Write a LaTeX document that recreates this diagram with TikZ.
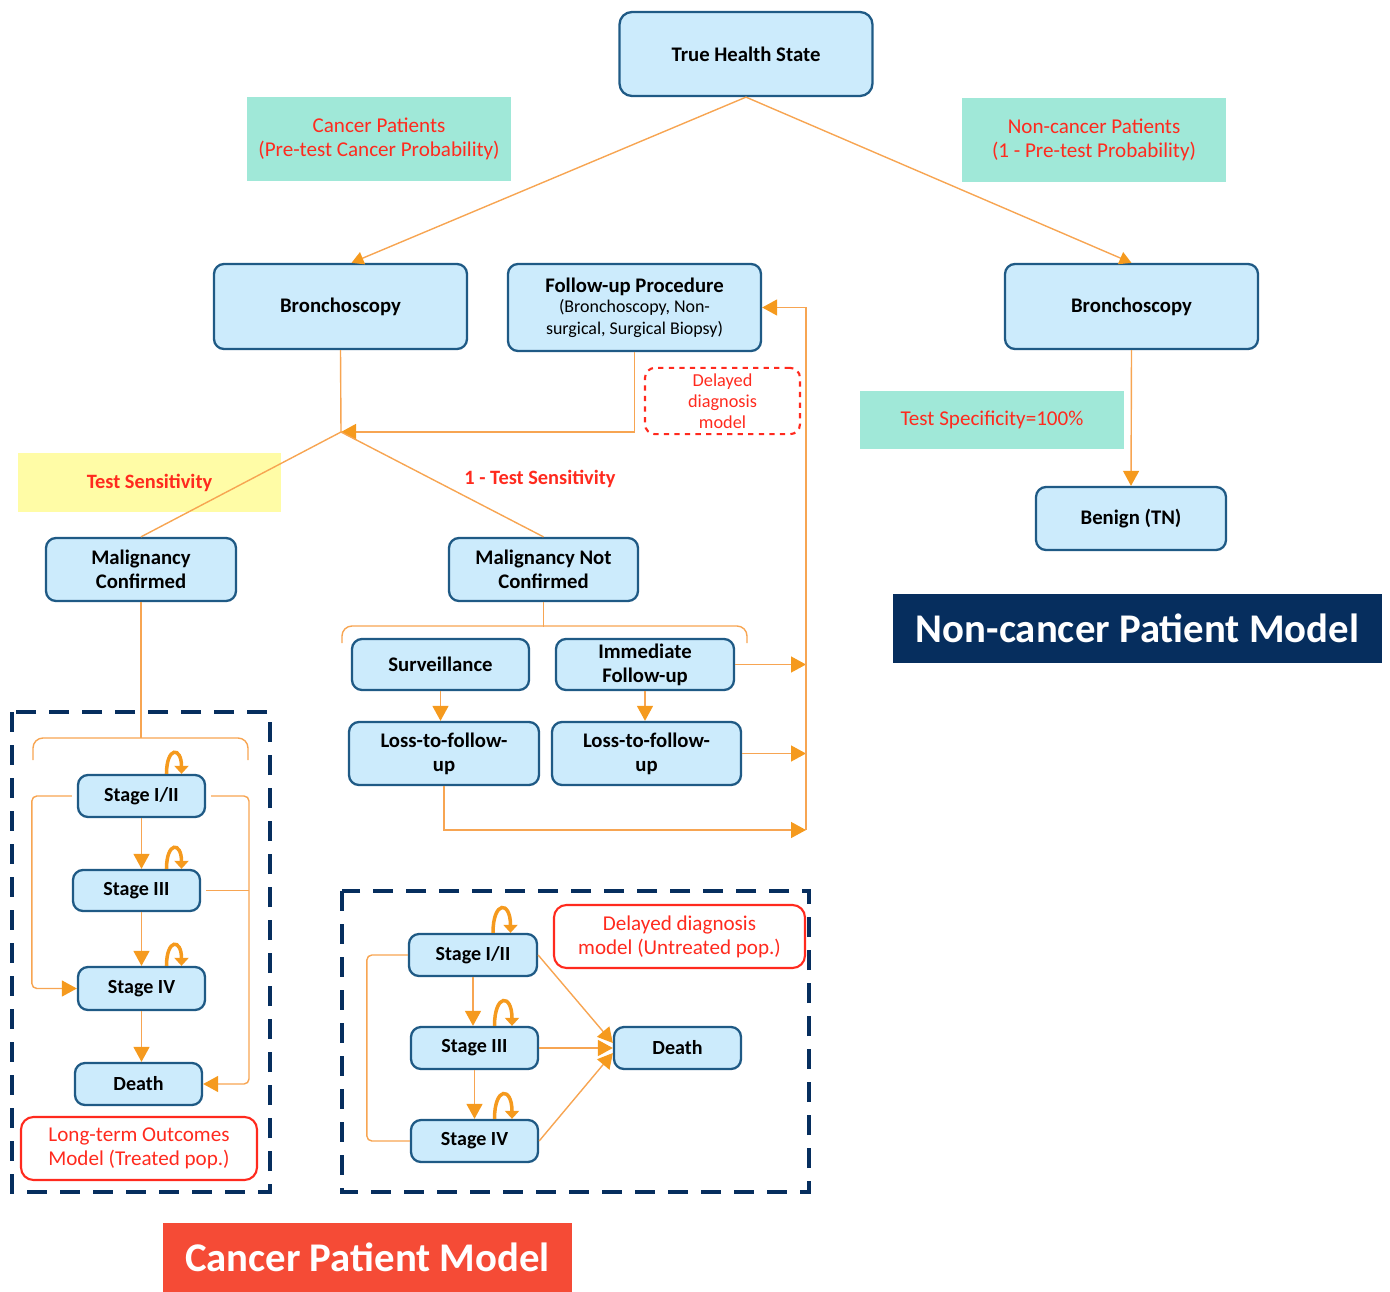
\documentclass[tikz,border=0pt]{standalone}
\usepackage{fontspec}
\setmainfont{Carlito}
\usepackage{xcolor}
\usepackage{tikz}
\usetikzlibrary{positioning,arrows.meta,shapes.geometric,calc}

\definecolor{boxfill}{HTML}{CCEBFC}
\definecolor{boxline}{HTML}{1F5A85}
\definecolor{flowline}{HTML}{F7A552}
\definecolor{tipcol}{HTML}{F59A1E}
\definecolor{labgreen}{HTML}{A0E8D8}
\definecolor{labyellow}{HTML}{FFFCA6}
\definecolor{labred}{HTML}{FF2A1E}
\definecolor{navy}{HTML}{062E5E}
\definecolor{titlered}{HTML}{F54B36}

\begin{document}
\begin{tikzpicture}[
    statebox/.style={rectangle, rounded corners=2mm, draw=boxline, line width=1.3pt, fill=boxfill, align=center, inner sep=2pt, font=\bfseries\fontsize{11.8}{13.6}\selectfont},
    stagebox/.style={statebox, minimum width=2.54cm, minimum height=0.84cm, font=\bfseries\fontsize{11.4}{13.6}\selectfont},
    probbox/.style={rectangle, fill=labgreen, text=labred, align=center, font=\fontsize{12}{13.6}\selectfont},
    notebox/.style={rectangle, rounded corners=2.5mm, draw=labred, line width=1.2pt, text=labred, align=center, font=\fontsize{12}{13.6}\selectfont},
    titlebox/.style={rectangle, text=white, font=\bfseries\fontsize{23.2}{26}\selectfont},
    frame/.style={draw=navy, line width=2.2pt, dash pattern=on 4mm off 2.6mm},
    link/.style={draw=flowline, line width=0.8pt},
    flow/.style={link, -{Triangle[length=3mm, width=3.2mm, color=tipcol]}},
    selfloop/.style={draw=tipcol, line width=2pt, -{Triangle[length=1.6mm, width=2.8mm]}},
  ]
  \useasboundingbox (0,0) rectangle (27.8,-25.84);

  % Root
  \node[statebox, rounded corners=2.5mm, minimum width=5.06cm, minimum height=1.68cm] (root) at (14.92,-1.08) {True Health State};

  % Probabilities of the two branches
  \node[probbox, minimum width=5.28cm, minimum height=1.68cm] (pcancer) at (7.58,-2.78) {Cancer Patients\\(Pre-test Cancer Probability)};
  \node[probbox, minimum width=5.28cm, minimum height=1.68cm] (pnoncancer) at (21.88,-2.80) {Non-cancer Patients\\(1 - Pre-test Probability)};

  % Level 1
  \node[statebox, minimum width=5.06cm, minimum height=1.70cm] (bronchl) at (6.81,-6.13) {Bronchoscopy};
  \node[statebox, minimum width=5.06cm, minimum height=1.74cm] (followup) at (12.69,-6.15) {Follow-up Procedure\\[-1.8pt]\mdseries\fontsize{10.2}{12}\selectfont (Bronchoscopy, Non-\\[-1.5pt]\mdseries\fontsize{10.2}{12}\selectfont surgical, Surgical Biopsy)};
  \node[statebox, minimum width=5.06cm, minimum height=1.70cm] (bronchr) at (22.63,-6.13) {Bronchoscopy};

  \node[notebox, dashed, rounded corners=2mm, minimum width=3.10cm, minimum height=1.28cm, font=\fontsize{10.4}{11.9}\selectfont] (delay) at (14.45,-8.02) {Delayed\\diagnosis\\model};

  % Non-cancer side
  \node[probbox, minimum width=5.28cm, minimum height=1.16cm] (spec) at (19.84,-8.40) {Test Specificity=100\%};
  \node[statebox, minimum width=3.80cm, minimum height=1.26cm] (benign) at (22.62,-10.37) {Benign (TN)};
  \node[titlebox, fill=navy, minimum width=9.78cm, minimum height=1.38cm] (ncmodel) at (22.75,-12.57) {Non-cancer Patient Model};

  % Test result
  \coordinate (jct) at (6.82,-8.64);
  \node[probbox, fill=labyellow, minimum width=5.26cm, minimum height=1.18cm, font=\bfseries\fontsize{11.6}{13.6}\selectfont] (sens) at (2.99,-9.65) {Test Sensitivity};
  \node[text=labred, font=\bfseries\fontsize{11.6}{13.6}\selectfont] (nsens) at (10.80,-9.58) {1 - Test Sensitivity};
  \node[statebox, minimum width=3.80cm, minimum height=1.26cm] (mc) at (2.82,-11.39) {Malignancy\\Confirmed};
  \node[statebox, minimum width=3.78cm, minimum height=1.26cm] (mnc) at (10.87,-11.39) {Malignancy Not\\Confirmed};

  % Not confirmed branch
  \node[statebox, minimum width=3.54cm, minimum height=1.02cm] (surv) at (8.81,-13.29) {Surveillance};
  \node[statebox, minimum width=3.56cm, minimum height=1.02cm] (imm) at (12.90,-13.29) {Immediate\\Follow-up};
  \node[statebox, minimum width=3.80cm, minimum height=1.26cm] (ltfa) at (8.88,-15.07) {Loss-to-follow-\\up};
  \node[statebox, minimum width=3.78cm, minimum height=1.26cm] (ltfb) at (12.93,-15.07) {Loss-to-follow-\\up};
  \coordinate (rail) at (16.12,-16.60);

  % Long-term outcomes (treated)
  \draw[frame] (0.24,-14.24) rectangle (5.40,-23.84);
  \node[stagebox] (s1l) at (2.83,-15.92) {Stage I/II};
  \node[stagebox, minimum height=0.82cm] (s3l) at (2.73,-17.81) {Stage III};
  \node[stagebox, minimum height=0.86cm] (s4l) at (2.83,-19.77) {Stage IV};
  \node[stagebox] (dl) at (2.77,-21.68) {Death};
  \node[notebox, minimum width=4.72cm, minimum height=1.26cm] (ltnote) at (2.78,-22.97) {Long-term Outcomes\\Model (Treated pop.)};
  \coordinate (rbus) at (4.98,-15.94);

  % Delayed diagnosis (untreated)
  \draw[frame] (6.84,-17.82) rectangle (16.18,-23.84);
  \node[stagebox, minimum width=2.56cm] (s1r) at (9.46,-19.10) {Stage I/II};
  \node[stagebox] (s3r) at (9.49,-20.96) {Stage III};
  \node[stagebox] (s4r) at (9.49,-22.82) {Stage IV};
  \node[stagebox] (dr) at (13.55,-20.96) {Death};
  \node[notebox, minimum width=5.02cm, minimum height=1.26cm] (ddnote) at (13.59,-18.73) {Delayed diagnosis\\model (Untreated pop.)};

  \node[titlebox, fill=titlered, minimum width=8.18cm, minimum height=1.38cm] (cmodel) at (7.35,-25.15) {Cancer Patient Model};

  % Edges
  \draw[flow, -{Triangle[length=2.4mm, width=2.6mm, color=tipcol]}] (root.south) -- ([xshift=2.2mm]bronchl.north);
  \draw[flow, -{Triangle[length=2.4mm, width=2.6mm, color=tipcol]}] (root.south) -- (bronchr.north);
  \draw[flow] (bronchr.south) -- (benign.north);
  \draw[link] (bronchl.south) -- (jct);
  \draw[flow] (followup.south) |- (jct);
  \draw[link] (jct) -- (mc.north);
  \draw[link] (jct) -- (mnc.north);

  % Bracket under not confirmed
  \draw[link] (mnc.south) -- ++(0,-0.5);
  \draw[link, rounded corners=2mm] (6.84,-12.86) |- (14.94,-12.52) -- (14.94,-12.86);
  \draw[flow] (surv.south) -- (surv.south |- ltfa.north);
  \draw[flow] (imm.south) -- (imm.south |- ltfb.north);
  \draw[flow] (imm.east) -- (imm.east -| rail);
  \draw[flow] (ltfb.east) -- (ltfb.east -| rail);
  \draw[flow] (ltfa.south) |- (rail);
  \draw[flow] (rail) |- (followup.east);

  % Bracket under confirmed
  \draw[link] (mc.south) -- (2.82,-14.76);
  \draw[link, rounded corners=2mm] (0.66,-15.20) |- (4.96,-14.76) -- (4.96,-15.20);

  % Treated transitions
  \draw[flow] (s1l.south) -- (s1l.south |- s3l.north);
  \draw[flow] (s1l.south |- s3l.south) -- (s4l.north);
  \draw[flow] (s4l.south) -- (s4l.south |- dl.north);
  \draw[flow, rounded corners=1mm] ([xshift=-1mm]s1l.west) -- ++(-0.8,0) |- (s4l.west);
  \draw[flow, rounded corners=1mm] ([xshift=1mm]s1l.east) -- (s1l.east -| rbus) |- (dl.east);
  \draw[link] ([xshift=1mm]s3l.east) -- (s3l.east -| rbus);
  \foreach \n/\dx in {s1l/5, s3l/6, s4l/5}
    \draw[selfloop] ([xshift=\dx mm]\n.north) .. controls +(0,0.55) and +(0,0.55) .. ([xshift=\dx mm+3mm]\n.north);

  % Untreated transitions
  \draw[flow] (s1r.south) -- (s1r.south |- s3r.north);
  \draw[flow] (s3r.south) -- (s4r.north);
  \draw[flow] (s1r.east) -- ([yshift=1mm]dr.west);
  \draw[flow] (s3r.east) -- (dr.west);
  \draw[flow] (s4r.east) -- ([yshift=-1mm]dr.west);
  \draw[link, rounded corners=1mm] (s1r.west) -- ++(-0.82,0) |- (s4r.west);
  \foreach \n in {s1r, s3r, s4r}
    \draw[selfloop] ([xshift=4mm]\n.north) .. controls +(0,0.65) and +(0,0.65) .. ([xshift=7.5mm]\n.north);
\end{tikzpicture}
\end{document}
